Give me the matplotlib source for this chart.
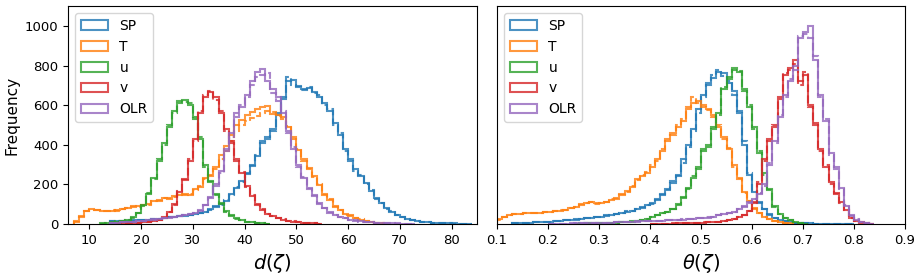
import numpy as np
import matplotlib
matplotlib.use("Agg")
import matplotlib.pyplot as plt

labels = ["SP", "T", "u", "v", "OLR"]
colors = ["tab:blue", "tab:orange", "tab:green", "tab:red", "tab:purple"]

# left panel, d(zeta): bin width 1, first bin edge per series
d_width = 1.0
d_start = [14, 7, 12, 15, 14]
d_sp = [15, 15, 16, 17, 18, 19, 20, 22, 24, 26,
        30, 34, 37, 40, 43, 47, 50, 55, 60, 75,
        88, 100, 118, 150, 180, 215, 255, 300, 345, 420,
        430, 480, 550, 640, 720, 725, 690, 680, 685, 665,
        640, 610, 570, 510, 450, 380, 320, 280, 245, 205,
        165, 130, 105, 80, 62, 48, 36, 27, 20, 15,
        11, 9, 7, 5, 4, 3, 3, 2, 2, 2]
d_sp_b = [14, 16, 15, 18, 17, 20, 21, 22, 25, 27,
          29, 35, 36, 41, 44, 46, 51, 56, 62, 73,
          90, 98, 120, 148, 185, 210, 260, 295, 350, 410,
          440, 470, 560, 630, 740, 700, 695, 675, 690, 660,
          650, 600, 580, 500, 460, 370, 330, 270, 250, 200,
          170, 125, 108, 78, 64, 46, 37, 26, 21, 14,
          12, 8, 7, 5, 4, 3, 2, 2, 2, 2]
d_t = [15, 40, 65, 75, 70, 68, 65, 68, 70, 75,
       82, 88, 90, 95, 100, 115, 120, 130, 128, 140,
       148, 150, 145, 175, 185, 230, 245, 290, 350, 395,
       450, 500, 525, 550, 565, 580, 590, 595, 555, 550,
       540, 490, 440, 375, 330, 280, 240, 195, 150, 120,
       90, 70, 50, 42, 30, 22, 15, 10, 6, 3]
d_t_b = [12, 38, 68, 72, 72, 66, 66, 70, 68, 78,
         80, 90, 88, 98, 98, 118, 118, 132, 130, 138,
         150, 148, 150, 170, 190, 225, 250, 280, 330, 370,
         420, 470, 500, 520, 535, 545, 560, 570, 565, 545,
         530, 495, 430, 380, 320, 285, 235, 200, 145, 125,
         88, 72, 48, 44, 28, 23, 14, 11, 5, 3]
d_u = [3, 5, 8, 12, 16, 20, 35, 55, 95, 150,
       230, 320, 410, 490, 570, 610, 625, 600, 540, 430,
       300, 210, 150, 100, 65, 42, 28, 18, 12, 8,
       5, 3, 2]
d_u_b = [2, 6, 7, 13, 15, 22, 33, 58, 90, 155,
         225, 330, 400, 500, 560, 620, 615, 610, 530, 440,
         290, 215, 145, 105, 62, 44, 27, 19, 11, 8,
         5, 3, 2]
d_v = [2, 3, 4, 5, 6, 8, 10, 14, 20, 35,
       60, 100, 160, 225, 320, 430, 560, 640, 665, 640,
       560, 480, 410, 330, 260, 190, 140, 100, 72, 52,
       40, 30, 22, 16, 12, 9, 6, 4, 3, 2]
d_v_b = [2, 3, 4, 6, 6, 8, 11, 13, 22, 33,
         62, 98, 165, 220, 330, 420, 570, 650, 670, 625,
         570, 470, 420, 320, 265, 185, 145, 98, 75, 50,
         42, 28, 23, 15, 13, 8, 6, 4, 3, 2]
d_olr = [5, 7, 9, 10, 12, 14, 16, 19, 22, 26,
         30, 33, 37, 42, 46, 50, 56, 70, 95, 135,
         190, 270, 370, 460, 540, 590, 650, 720, 770, 785,
         720, 680, 640, 560, 470, 380, 300, 230, 180, 140,
         105, 80, 60, 47, 36, 28, 22, 17, 13, 10,
         8, 6, 5, 4, 3, 3, 2, 2, 1]
d_olr_b = [6, 7, 8, 11, 12, 13, 17, 18, 23, 25,
           31, 34, 36, 43, 45, 52, 58, 68, 98, 130,
           200, 260, 380, 440, 560, 600, 640, 700, 740, 750,
           760, 660, 620, 570, 460, 390, 290, 235, 175, 145,
           100, 82, 58, 48, 35, 29, 21, 18, 12, 10,
           8, 6, 5, 4, 3, 2, 2, 2, 1]

# right panel, theta(zeta): bin width 0.01
th_width = 0.01
th_start = [0.13, 0.10, 0.25, 0.40, 0.20]
th_sp = [5, 6, 6, 7, 8, 9, 10, 12, 14, 16,
         18, 20, 22, 25, 28, 32, 35, 38, 42, 46,
         50, 55, 62, 68, 75, 85, 95, 105, 125, 150,
         175, 215, 250, 330, 400, 480, 580, 650, 710, 735,
         765, 760, 710, 670, 560, 400, 250, 160, 110, 75,
         50, 32, 22, 15, 10, 7, 5, 4, 3, 2,
         2, 2, 1, 1, 1, 1, 1]
th_sp_b = [4, 6, 7, 7, 9, 9, 11, 12, 15, 16,
           19, 21, 23, 24, 30, 31, 37, 38, 44, 45,
           52, 54, 64, 66, 78, 82, 98, 102, 120, 145,
           170, 205, 240, 310, 390, 470, 560, 640, 700, 750,
           780, 745, 720, 650, 570, 420, 260, 165, 105, 78,
           48, 33, 21, 16, 9, 7, 5, 4, 3, 2,
           2, 1, 1, 1, 1, 1, 1]
th_t = [25, 35, 45, 50, 52, 55, 55, 57, 58, 60,
        62, 65, 68, 72, 80, 88, 98, 106, 110, 104,
        106, 112, 120, 130, 145, 165, 185, 225, 240, 258,
        290, 330, 370, 420, 460, 490, 520, 580, 610, 620,
        600, 580, 550, 490, 440, 380, 300, 225, 160, 115,
        80, 55, 38, 25, 16, 10, 6, 4]
th_t_b = [20, 36, 44, 52, 50, 56, 54, 58, 57, 62,
          61, 66, 70, 70, 82, 86, 100, 104, 112, 102,
          108, 110, 124, 128, 150, 160, 190, 220, 250, 265,
          300, 320, 380, 430, 450, 500, 530, 590, 640, 610,
          590, 575, 540, 500, 430, 385, 290, 230, 155, 118,
          78, 57, 36, 26, 15, 11, 6, 4]
th_u = [2, 2, 3, 3, 4, 4, 5, 6, 7, 8,
        10, 12, 15, 20, 26, 35, 45, 56, 62, 75,
        100, 130, 180, 230, 290, 370, 400, 480, 560, 680,
        740, 790, 770, 680, 590, 490, 360, 260, 170, 90,
        50, 30, 18, 10, 5, 2]
th_u_b = [2, 3, 3, 4, 4, 5, 5, 6, 7, 9,
          10, 13, 14, 21, 25, 36, 44, 58, 60, 78,
          95, 135, 175, 240, 280, 380, 390, 490, 550, 690,
          730, 780, 775, 670, 600, 480, 370, 250, 175, 88,
          52, 28, 19, 9, 5, 2]
th_v = [1, 1, 2, 2, 2, 3, 3, 4, 5, 6,
        7, 8, 10, 12, 15, 18, 25, 35, 48, 65,
        110, 200, 330, 420, 490, 640, 750, 790, 830, 720,
        750, 600, 500, 380, 290, 210, 150, 110, 70, 32,
        15, 8, 4, 2]
th_v_b = [1, 2, 2, 2, 3, 3, 4, 4, 5, 6,
          8, 8, 11, 12, 16, 19, 24, 36, 46, 68,
          105, 210, 320, 430, 500, 630, 760, 780, 810, 700,
          770, 590, 510, 370, 300, 200, 155, 105, 72, 30,
          16, 7, 4, 2]
th_olr = [1, 1, 2, 2, 2, 3, 3, 4, 4, 5,
          5, 6, 7, 8, 9, 10, 11, 12, 13, 14,
          15, 16, 17, 18, 20, 21, 22, 24, 26, 28,
          30, 33, 38, 44, 50, 55, 62, 75, 90, 108,
          128, 150, 200, 300, 420, 540, 650, 720, 800, 940,
          970, 1000, 830, 650, 520, 360, 280, 180, 90, 45,
          22, 10, 5, 2]
th_olr_b = [1, 2, 2, 2, 3, 3, 4, 4, 5, 5,
            6, 6, 7, 9, 9, 11, 11, 13, 13, 15,
            15, 17, 17, 19, 20, 22, 23, 24, 27, 29,
            31, 34, 37, 46, 49, 57, 60, 78, 88, 112,
            125, 155, 190, 310, 410, 550, 640, 730, 780, 950,
            960, 940, 850, 640, 530, 350, 290, 175, 95, 42,
            23, 9, 5, 2]

d_solid = [d_sp, d_t, d_u, d_v, d_olr]
d_dash = [d_sp_b, d_t_b, d_u_b, d_v_b, d_olr_b]
th_solid = [th_sp, th_t, th_u, th_v, th_olr]
th_dash = [th_sp_b, th_t_b, th_u_b, th_v_b, th_olr_b]


def draw_panel(ax, starts, width, solid, dashed):
    for i in range(len(labels)):
        n = len(solid[i])
        edges = starts[i] + width * np.arange(n + 1)
        mids = 0.5 * (edges[:-1] + edges[1:])
        ax.hist(mids, bins=edges, weights=solid[i], histtype="step",
                color=colors[i], lw=1.5, alpha=0.8, label=labels[i])
        ax.hist(mids, bins=edges, weights=dashed[i], histtype="step",
                color=colors[i], lw=1.5, alpha=0.8, linestyle="--")
    ax.set_ylim(0, 1100)
    ax.legend(loc="upper left", fontsize=10)
    ax.tick_params(labelsize=9.5)


fig = plt.figure(figsize=(9.23, 2.79), dpi=100)
ax1 = fig.add_axes([0.0737, 0.197, 0.443, 0.781])
ax2 = fig.add_axes([0.5385, 0.197, 0.442, 0.781])

draw_panel(ax1, d_start, d_width, d_solid, d_dash)
ax1.set_xlim(5.9, 84.9)
ax1.set_xlabel(r"$d(\zeta)$", fontsize=14)
ax1.set_ylabel("Frequency", fontsize=11)

draw_panel(ax2, th_start, th_width, th_solid, th_dash)
ax2.set_xlim(0.1, 0.9)
ax2.set_xlabel(r"$\theta(\zeta)$", fontsize=14)
ax2.tick_params(left=False, labelleft=False)

fig.savefig("out.png", dpi=100)
